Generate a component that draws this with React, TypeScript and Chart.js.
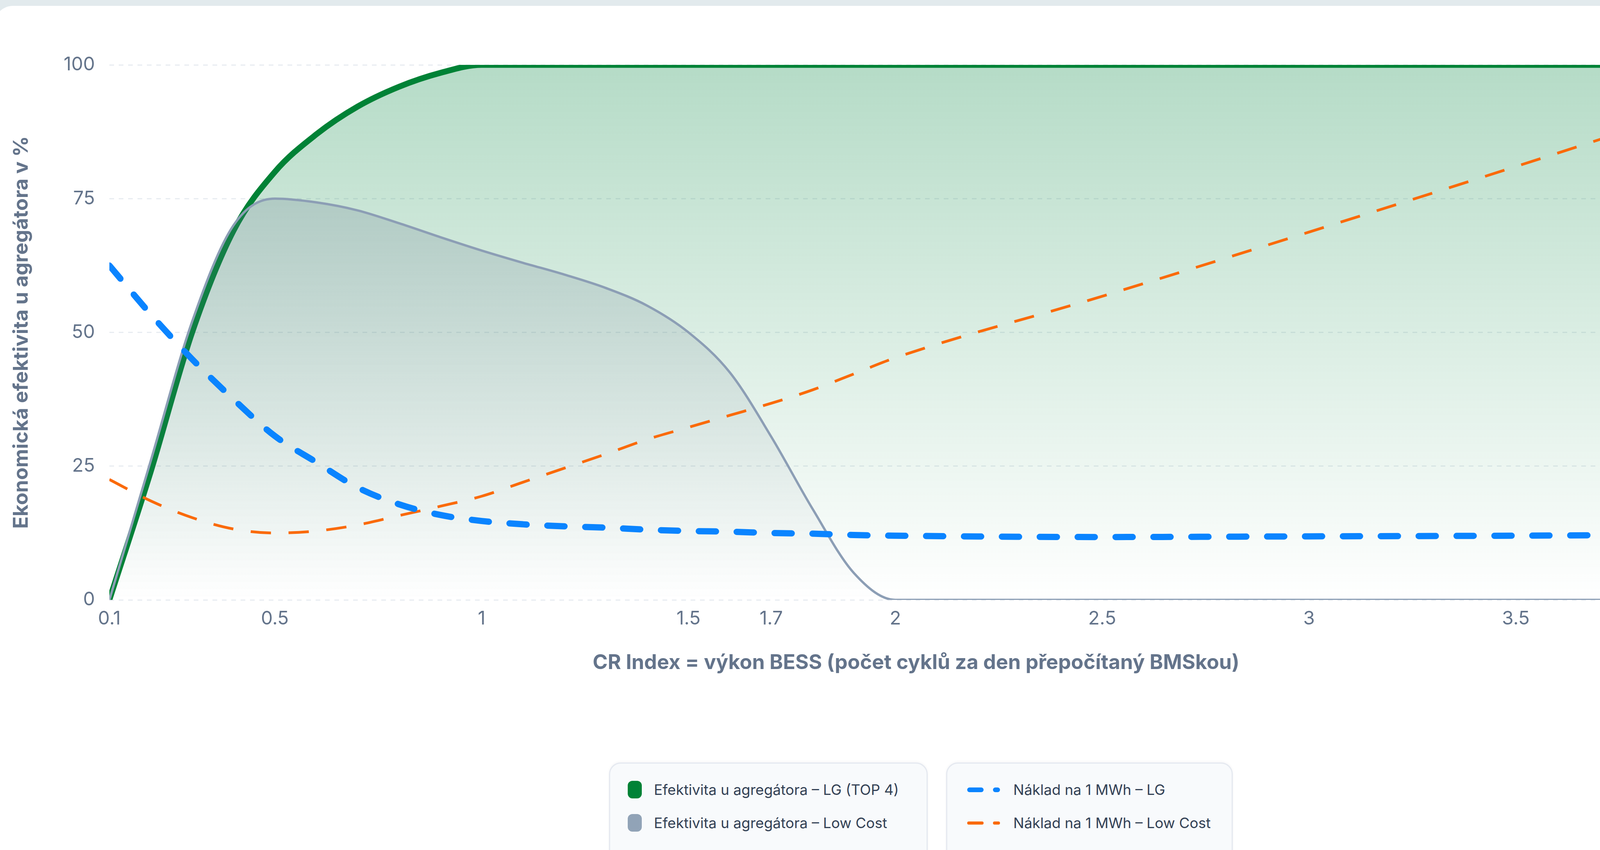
import React, { useEffect, useRef } from "react";
import { Chart, registerables } from "chart.js";

Chart.register(...registerables);

// ---- data ----
const crIndex = [0.1, 0.2, 0.3, 0.4, 0.5, 0.6, 0.7, 0.8, 0.9, 1.0, 1.1, 1.2, 1.3, 1.4, 1.5, 1.6, 1.7, 1.8, 1.9, 2.0, 2.5, 3.0, 3.5, 4.0];
const efficiencyLG = [0, 24, 50, 69, 80, 87, 92.2, 95.9, 98.5, 100, 100, 100, 100, 100, 100, 100, 100, 100, 100, 100, 100, 100, 100, 100];
const efficiencyLowCost = [0, 26, 52, 70, 75, 74.3, 72.8, 70.4, 67.8, 65.3, 63, 60.8, 58.3, 55, 50, 42.5, 30.5, 17, 5, 0, 0, 0, 0, 0];
const costLG = [50, 42.7, 36, 30, 24.5, 20.6, 16.8, 14.3, 12.7, 11.8, 11.3, 11.0, 10.8, 10.5, 10.3, 10.2, 10.0, 9.9, 9.7, 9.6, 9.4, 9.5, 9.6, 9.8];
const costLowCost = [18, 14.8, 12.3, 10.6, 10.0, 10.3, 11.2, 12.6, 14.0, 15.5, 17.6, 19.7, 21.8, 24, 25.8, 27.6, 29.4, 31.4, 33.8, 36.2, 45.4, 55, 64.8, 74.8];
const xTickValues = [0.1, 0.5, 1, 1.5, 1.7, 2, 2.5, 3, 3.5, 4];

const labelLG = "Efektivita u agregátora – LG (TOP 4)";
const labelLowCost = "Efektivita u agregátora – Low Cost";
const labelCostLG = "Náklad na 1 MWh – LG";
const labelCostLowCost = "Náklad na 1 MWh – Low Cost";
const xTitle = "CR Index = výkon BESS (počet cyklů za den přepočítaný BMSkou)";
const yLeftTitle = "Ekonomická efektivita u agregátora v %";
const yRightTitle = "Náklad [€ / 1 MWh]";

const GREEN = "#008236";
const GRAY_LINE = "#8c9eb5";
const GRAY_SWATCH = "#91a3b7";
const BLUE = "#0a84ff";
const ORANGE = "#fa6a0a";
const AXIS_COLOR = "#64748b";
const FONT = "Inter, 'Noto Sans', sans-serif";

const toPoints = (ys: number[]) => crIndex.map((x, i) => ({ x, y: ys[i] }));

function gradientFill(r: number, g: number, b: number, topAlpha: number) {
  return (context: any) => {
    const chart = context.chart;
    const { ctx, chartArea } = chart;
    if (!chartArea) return "transparent";
    const grad = ctx.createLinearGradient(0, chartArea.top, 0, chartArea.bottom);
    grad.addColorStop(0, `rgba(${r},${g},${b},${topAlpha})`);
    grad.addColorStop(1, `rgba(${r},${g},${b},0)`);
    return grad;
  };
}

function ChartCanvas() {
  const ref = useRef<HTMLCanvasElement | null>(null);
  useEffect(() => {
    if (!ref.current) return;
    const chart = new Chart(ref.current, {
      type: "line",
      data: {
        datasets: [
          {
            label: labelLG,
            data: toPoints(efficiencyLG),
            yAxisID: "y",
            borderColor: GREEN,
            borderWidth: 15,
            backgroundColor: gradientFill(0, 132, 61, 0.29),
            fill: "origin",
            pointRadius: 0,
            cubicInterpolationMode: "monotone",
            order: 3,
          },
          {
            label: labelLowCost,
            data: toPoints(efficiencyLowCost),
            yAxisID: "y",
            borderColor: GRAY_LINE,
            borderWidth: 6,
            backgroundColor: gradientFill(100, 116, 139, 0.3),
            fill: "origin",
            pointRadius: 0,
            cubicInterpolationMode: "monotone",
            order: 2,
          },
          {
            label: labelCostLG,
            data: toPoints(costLG),
            yAxisID: "y1",
            borderColor: BLUE,
            borderWidth: 16,
            borderDash: [44, 53],
            borderCapStyle: "round",
            fill: false,
            pointRadius: 0,
            cubicInterpolationMode: "monotone",
            order: 0,
          },
          {
            label: labelCostLowCost,
            data: toPoints(costLowCost),
            yAxisID: "y1",
            borderColor: ORANGE,
            borderWidth: 7,
            borderDash: [52, 45],
            fill: false,
            pointRadius: 0,
            cubicInterpolationMode: "monotone",
            order: 1,
          },
        ],
      },
      options: {
        animation: false,
        responsive: true,
        maintainAspectRatio: false,
        devicePixelRatio: 1,
        layout: { padding: { top: 166, left: 0, right: 0, bottom: 0 } },
        plugins: {
          legend: { display: false },
          tooltip: { enabled: false },
        },
        scales: {
          x: {
            type: "linear",
            min: 0.1,
            max: 4,
            afterBuildTicks: (scale: any) => {
              scale.ticks = xTickValues.map((v) => ({ value: v }));
            },
            afterFit: (scale: any) => {
              scale.height = 245;
            },
            ticks: {
              autoSkip: false,
              maxRotation: 0,
              padding: 20,
              color: AXIS_COLOR,
              font: { family: FONT, size: 48 },
              callback: (v: any) => String(v),
            },
            grid: { display: false, drawTicks: false },
            border: { display: false },
            title: {
              display: true,
              text: xTitle,
              color: AXIS_COLOR,
              font: { family: FONT, size: 52, weight: "bold" },
              padding: { top: 0, bottom: 52 },
            },
          },
          y: {
            type: "linear",
            position: "left",
            min: 0,
            max: 100,
            ticks: {
              stepSize: 25,
              padding: 37,
              color: AXIS_COLOR,
              font: { family: FONT, size: 48 },
            },
            afterFit: (scale: any) => {
              scale.width = 280;
            },
            grid: { color: "#e8ecf1", lineWidth: 3, drawTicks: false },
            border: { display: false, dash: [12, 12] },
            title: {
              display: true,
              text: yLeftTitle,
              color: AXIS_COLOR,
              font: { family: FONT, size: 52, weight: "bold" },
              padding: { top: 24, bottom: 0 },
            },
          },
          y1: {
            type: "linear",
            position: "right",
            min: 0,
            max: 80,
            ticks: {
              stepSize: 20,
              padding: 35,
              color: AXIS_COLOR,
              font: { family: FONT, size: 48 },
            },
            afterFit: (scale: any) => {
              scale.width = 335;
            },
            grid: { drawOnChartArea: false, drawTicks: false },
            border: { display: false },
            title: {
              display: true,
              text: yRightTitle,
              color: AXIS_COLOR,
              font: { family: FONT, size: 52, weight: "bold" },
              padding: { top: 86, bottom: 0 },
            },
          },
        },
      },
    } as any);
    return () => chart.destroy();
  }, []);
  return (
    <div style={{ position: "absolute", left: 0, top: 0, width: 4745, height: 1780 }}>
      <canvas ref={ref} />
    </div>
  );
}

const legendText: React.CSSProperties = {
  fontFamily: FONT,
  fontSize: 37,
  color: "#334155",
  whiteSpace: "nowrap",
  lineHeight: "45px",
};

const boxStyle: React.CSSProperties = {
  position: "absolute",
  top: 1951,
  height: 260,
  background: "#f8fafc",
  border: "3px solid #e5e9f0",
  borderRadius: 30,
  boxSizing: "border-box",
  boxShadow: "0 -2px 6px rgba(15,23,42,0.04)",
};

function SwatchRow({ color, label, top }: { color: string; label: string; top: number }) {
  return (
    <div style={{ position: "absolute", left: 45, top, display: "flex", alignItems: "center" }}>
      <div style={{ width: 36, height: 45, borderRadius: 12, background: color, marginRight: 31 }} />
      <span style={legendText}>{label}</span>
    </div>
  );
}

function DashRow({ color, thick, label, top }: { color: string; thick: number; label: string; top: number }) {
  return (
    <div style={{ position: "absolute", left: 51, top, height: 45, display: "flex", alignItems: "center" }}>
      <div style={{ width: 42, height: thick, borderRadius: thick / 2, background: color }} />
      <div style={{ width: 18, height: thick, borderRadius: thick / 2, background: color, marginLeft: 24, marginRight: 34 }} />
      <span style={legendText}>{label}</span>
    </div>
  );
}

export default function App() {
  useEffect(() => {
    document.body.style.margin = "0";
  }, []);
  return (
    <div style={{ position: "fixed", inset: 0, background: "#e2eaed", overflow: "hidden" }}>
      <div
        style={{
          position: "absolute",
          left: -15,
          top: 15,
          width: 4760,
          height: 2400,
          background: "#ffffff",
          borderRadius: 48,
        }}
      />
      <ChartCanvas />
      <div style={{ ...boxStyle, left: 1559, width: 816 }}>
        <SwatchRow color={GREEN} label={labelLG} top={44} />
        <SwatchRow color={GRAY_SWATCH} label={labelLowCost} top={129} />
      </div>
      <div style={{ ...boxStyle, left: 2422, width: 734 }}>
        <DashRow color={BLUE} thick={12} label={labelCostLG} top={44} />
        <DashRow color={ORANGE} thick={8} label={labelCostLowCost} top={129} />
      </div>
    </div>
  );
}
